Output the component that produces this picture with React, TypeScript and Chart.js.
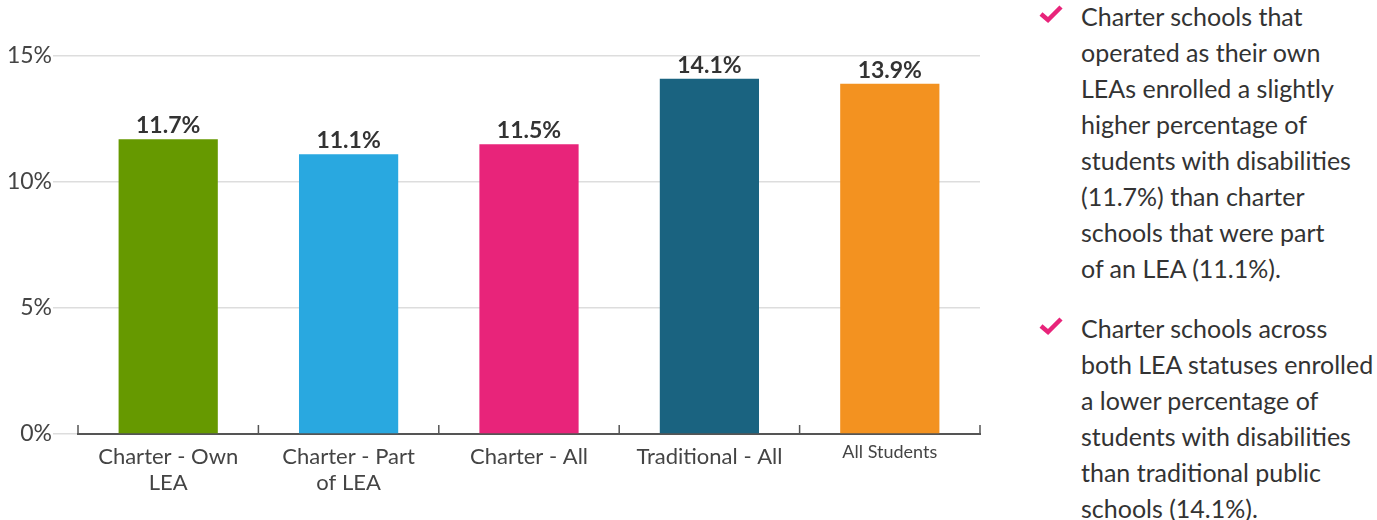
import React, { useEffect, useRef } from "react";
import { Chart, registerables } from "chart.js";

Chart.register(...registerables);

const categories: (string | string[])[] = [
  ["Charter - Own", "LEA"],
  ["Charter - Part", "of LEA"],
  "Charter - All",
  "Traditional - All",
  "All Students",
];
const values = [11.7, 11.1, 11.5, 14.1, 13.9];
const barColors = ["#669900", "#29a8e0", "#e8247a", "#1a6380", "#f39220"];
const yMin = 0;
const yMax = 15;
const yStep = 5;
const noteOne = [
  "Charter schools that",
  "operated as their own",
  "LEAs enrolled a slightly",
  "higher percentage of",
  "students with disabilities",
  "(11.7%) than charter",
  "schools that were part",
  "of an LEA (11.1%).",
];
const noteTwo = [
  "Charter schools across",
  "both LEA statuses enrolled",
  "a lower percentage of",
  "students with disabilities",
  "than traditional public",
  "schools (14.1%).",
];

const FONT = "Lato, 'Open Sans', sans-serif";

const extrasPlugin = {
  id: "extras",
  afterDatasetsDraw(chart: any) {
    const ctx = chart.ctx;
    const x = chart.scales.x;
    const n = chart.data.labels.length;
    ctx.save();
    ctx.strokeStyle = "#555";
    ctx.lineWidth = 1.5;
    for (let i = 0; i <= n; i++) {
      let px: number;
      if (i === 0) px = x.left;
      else if (i === n) px = x.right;
      else px = (x.getPixelForValue(i - 1) + x.getPixelForValue(i)) / 2;
      ctx.beginPath();
      ctx.moveTo(px, x.top);
      ctx.lineTo(px, x.top - 9);
      ctx.stroke();
    }
    const meta = chart.getDatasetMeta(0);
    ctx.fillStyle = "#333";
    ctx.font = `bold 23px ${FONT}`;
    ctx.textAlign = "center";
    ctx.textBaseline = "bottom";
    meta.data.forEach((bar: any, i: number) => {
      const v = chart.data.datasets[0].data[i];
      ctx.fillText(`${v.toFixed(1)}%`, bar.x, bar.y - 2);
    });
    ctx.restore();
  },
};

function Check() {
  return (
    <svg width="26" height="20" viewBox="0 0 26 20" style={{ position: "absolute", left: -43, top: 6 }}>
      <polyline points="3,10 10,16 23,3" fill="none" stroke="#e8247a" strokeWidth="4.5" />
    </svg>
  );
}

export default function App() {
  const ref = useRef<HTMLCanvasElement | null>(null);

  useEffect(() => {
    if (!ref.current) return;
    const chart = new Chart(ref.current, {
      type: "bar",
      data: {
        labels: categories,
        datasets: [
          {
            data: values,
            backgroundColor: barColors,
            barPercentage: 0.55,
            categoryPercentage: 1,
          },
        ],
      },
      options: {
        animation: false,
        responsive: true,
        maintainAspectRatio: false,
        layout: { padding: { top: 56, right: 10, left: 0, bottom: 0 } },
        plugins: { legend: { display: false }, tooltip: { enabled: false } },
        scales: {
          x: {
            grid: { display: false },
            border: { display: true, color: "#555", width: 2 },
            ticks: {
              color: "#444",
              padding: 1,
              maxRotation: 0,
              autoSkip: false,
              font: (c: any) =>
                c.index === 4
                  ? { family: FONT, size: 18, lineHeight: 1.0 }
                  : { family: FONT, size: 22, lineHeight: 1.22 },
            },
            afterFit: (s: any) => {
              s.height = 86;
            },
          },
          y: {
            min: yMin,
            max: yMax,
            grid: { color: "#dddddd", lineWidth: 1.5, tickLength: 25, drawTicks: true },
            border: { display: false },
            ticks: {
              stepSize: yStep,
              padding: 1,
              color: "#444",
              font: { family: FONT, size: 23 },
              callback: (v: any) => `${v}%`,
            },
            afterFit: (s: any) => {
              s.width = 78;
            },
          },
        },
      },
      plugins: [extrasPlugin],
    });
    return () => chart.destroy();
  }, []);

  const textStyle: React.CSSProperties = {
    position: "relative",
    fontFamily: FONT,
    fontSize: 25,
    lineHeight: "36px",
    color: "#333",
  };

  return (
    <div style={{ position: "absolute", left: 0, top: 0, width: 1377, height: 520, background: "#fff" }}>
      <div style={{ position: "absolute", left: 0, top: 0, width: 990, height: 520 }}>
        <canvas ref={ref} />
      </div>
      <div style={{ position: "absolute", left: 1081, top: -2, whiteSpace: "nowrap" }}>
        <div style={textStyle}>
          <Check />
          {noteOne.map((l, i) => (
            <div key={i}>{l}</div>
          ))}
        </div>
        <div style={{ ...textStyle, marginTop: 24 }}>
          <Check />
          {noteTwo.map((l, i) => (
            <div key={i}>{l}</div>
          ))}
        </div>
      </div>
    </div>
  );
}
